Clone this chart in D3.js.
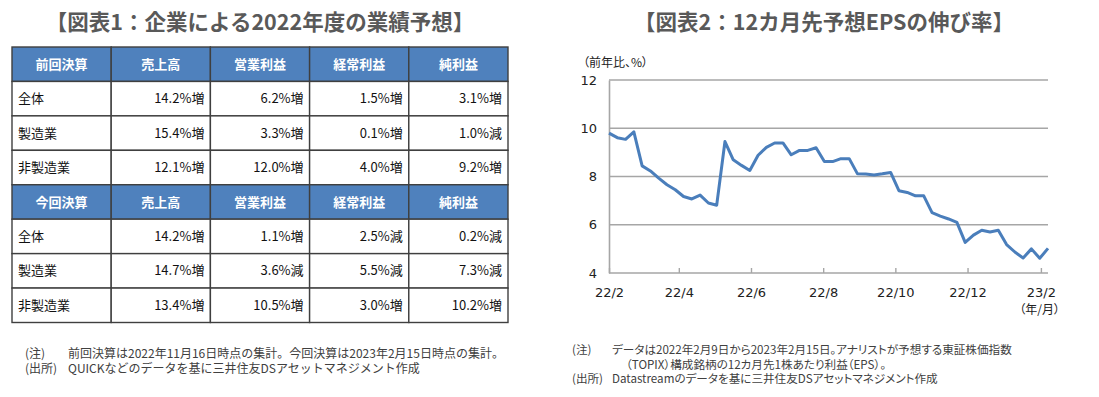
<!DOCTYPE html>
<html>
<head>
<meta charset="utf-8">
<script src="https://cdn.jsdelivr.net/npm/d3@7"></script>
<style>
  body { margin: 0; background: #fff; }
  svg text { font-family: "Noto Sans CJK JP", "Noto Sans", sans-serif; }
  .palt { font-feature-settings: "palt"; }
</style>
</head>
<body>
<svg id="chart" width="1099" height="397"></svg>
<script>
// Table 1 data
var tableCols = ['売上高', '営業利益', '経常利益', '純利益']
var prevHead = '前回決算'
var currHead = '今回決算'
var rowNames = ['全体', '製造業', '非製造業']
var prevValues = [
  ['14.2%増', '6.2%増', '1.5%増', '3.1%増'],
  ['15.4%増', '3.3%増', '0.1%増', '1.0%減'],
  ['12.1%増', '12.0%増', '4.0%増', '9.2%増']
]
var currValues = [
  ['14.2%増', '1.1%増', '2.5%減', '0.2%減'],
  ['14.7%増', '3.6%減', '5.5%減', '7.3%減'],
  ['13.4%増', '10.5%増', '3.0%増', '10.2%増']
]

// Chart 2 data : weekly, 2022/2/9 - 2023/2/15
var epsDates = [
  '2022-02-09','2022-02-16','2022-02-23','2022-03-02','2022-03-09','2022-03-16','2022-03-23','2022-03-30',
  '2022-04-06','2022-04-13','2022-04-20','2022-04-27','2022-05-04','2022-05-11','2022-05-18','2022-05-25',
  '2022-06-01','2022-06-08','2022-06-15','2022-06-22','2022-06-29','2022-07-06','2022-07-13','2022-07-20',
  '2022-07-27','2022-08-03','2022-08-10','2022-08-17','2022-08-24','2022-08-31','2022-09-07','2022-09-14',
  '2022-09-21','2022-09-28','2022-10-05','2022-10-12','2022-10-19','2022-10-26','2022-11-02','2022-11-09',
  '2022-11-16','2022-11-23','2022-11-30','2022-12-07','2022-12-14','2022-12-21','2022-12-28','2023-01-04',
  '2023-01-11','2023-01-18','2023-01-25','2023-02-01','2023-02-08','2023-02-15'
]
var epsGrowth = [
  9.80, 9.61, 9.54, 9.85, 8.44, 8.23, 7.93, 7.66,
  7.45, 7.17, 7.07, 7.23, 6.90, 6.81, 9.45, 8.69,
  8.46, 8.25, 8.88, 9.21, 9.39, 9.39, 8.90, 9.08,
  9.08, 9.19, 8.62, 8.62, 8.74, 8.74, 8.11, 8.10,
  8.06, 8.11, 8.17, 7.41, 7.34, 7.20, 7.20, 6.50,
  6.36, 6.24, 6.10, 5.27, 5.57, 5.77, 5.70, 5.77,
  5.18, 4.87, 4.62, 5.00, 4.61, 5.02
]
var yTicks = [4, 6, 8, 10, 12]
var xTickDates = ['2022-02-09','2022-04-09','2022-06-09','2022-08-09','2022-10-09','2022-12-09','2023-02-09']

var notes1 = [
  ['(注)', '前回決算は2022年11月16日時点の集計。今回決算は2023年2月15日時点の集計。'],
  ['(出所)', 'QUICKなどのデータを基に三井住友DSアセットマネジメント作成']
]
var notes2 = [
  ['(注)', 'データは2022年2月9日から2023年2月15日。アナリストが予想する東証株価指数'],
  ['', '（TOPIX）構成銘柄の12カ月先1株あたり利益（EPS）。'],
  ['(出所)', 'Datastreamのデータを基に三井住友DSアセットマネジメント作成']
]

var svg = d3.select('#chart')
var titleColor = '#595959'
var headBlue = '#4F81BD'

// ########### TABLE ###########

svg.append('text')
  .attr('x', 260).attr('y', 30)
  .attr('text-anchor', 'middle')
  .attr('font-size', 21.5).attr('font-weight', 'bold')
  .attr('fill', titleColor)
  .text('【図表1：企業による2022年度の業績予想】')

var rows = []
rows.push({head: true, cells: [prevHead].concat(tableCols)})
rowNames.forEach(function(n, i){ rows.push({head: false, cells: [n].concat(prevValues[i])}) })
rows.push({head: true, cells: [currHead].concat(tableCols)})
rowNames.forEach(function(n, i){ rows.push({head: false, cells: [n].concat(currValues[i])}) })

var colX = d3.scaleBand().domain(d3.range(5)).range([12, 508])
var rowY = d3.scaleBand().domain(d3.range(rows.length)).range([47, 322.5])

var rowG = svg.append('g').selectAll('g')
  .data(rows).join('g')
  .attr('transform', function(d, i){ return 'translate(0,' + rowY(i) + ')' })

rowG.each(function(row){
  var g = d3.select(this)
  row.cells.forEach(function(txt, j){
    g.append('rect')
      .attr('x', colX(j)).attr('y', 0)
      .attr('width', colX.bandwidth()).attr('height', rowY.bandwidth())
      .attr('fill', row.head ? headBlue : '#fff')
      .attr('stroke', '#3f3f3f').attr('stroke-width', 1.4)
    var t = g.append('text')
      .attr('y', rowY.bandwidth() / 2)
      .attr('dy', '0.35em')
      .attr('font-size', 13)
      .text(txt)
    if (row.head){
      t.attr('x', colX(j) + colX.bandwidth() / 2).attr('text-anchor', 'middle')
        .attr('font-weight', 'bold').attr('fill', '#fff')
    } else if (j == 0){
      t.attr('x', colX(j) + 6).attr('fill', '#111')
    } else {
      t.attr('x', colX(j) + colX.bandwidth() - 6).attr('text-anchor', 'end').attr('fill', '#111')
    }
  })
})

// ########### LINE CHART ###########

svg.append('text')
  .attr('x', 824).attr('y', 30)
  .attr('text-anchor', 'middle')
  .attr('font-size', 21.5).attr('font-weight', 'bold')
  .attr('fill', titleColor)
  .text('【図表2：12カ月先予想EPSの伸び率】')

var parse = d3.timeParse('%Y-%m-%d')
var pts = epsDates.map(function(d, i){ return {date: parse(d), v: epsGrowth[i]} })

var x = d3.scaleTime().domain([parse(epsDates[0]), parse(epsDates[epsDates.length - 1])]).range([609, 1048])
var y = d3.scaleLinear().domain([4, 12]).range([273, 80])
var gridColor = '#a6a6a6'

// gridlines
svg.append('g').selectAll('line')
  .data(yTicks.filter(function(t){ return t > 4 })).join('line')
  .attr('x1', 609).attr('x2', 1048)
  .attr('y1', function(d){ return y(d) }).attr('y2', function(d){ return y(d) })
  .attr('stroke', gridColor).attr('stroke-width', 1.6)

// y axis
var yAxis = svg.append('g')
  .attr('transform', 'translate(609,0)')
  .call(d3.axisLeft(y).tickValues(yTicks).tickSize(0).tickPadding(12))
yAxis.select('.domain').attr('stroke', gridColor).attr('stroke-width', 1.6)
yAxis.selectAll('text').attr('font-size', 13).attr('fill', '#222')
  .style('font-family', '"DejaVu Sans", "Noto Sans CJK JP", sans-serif')

// x axis
var xAxis = svg.append('g')
  .attr('transform', 'translate(0,273)')
  .call(d3.axisTop(x).tickValues(xTickDates.map(parse)).tickSize(5).tickFormat(d3.timeFormat('%y/%-m')))
xAxis.select('.domain').remove()
xAxis.append('line').attr('x1', 609).attr('x2', 1048).attr('stroke', gridColor).attr('stroke-width', 1.6)
xAxis.selectAll('.tick line').attr('stroke', gridColor).attr('stroke-width', 1.4)
xAxis.selectAll('.tick text')
  .attr('y', 19).attr('dy', '0.35em')
  .attr('font-size', 13).attr('fill', '#222')
  .style('font-family', '"DejaVu Sans", "Noto Sans CJK JP", sans-serif')

var line = d3.line()
  .x(function(d){ return x(d.date) })
  .y(function(d){ return y(d.v) })

svg.append('path')
  .datum(pts)
  .attr('d', line)
  .attr('fill', 'none')
  .attr('stroke', '#4A7EBB')
  .attr('stroke-width', 3)
  .attr('stroke-linejoin', 'round')

svg.append('text')
  .attr('class', 'palt')
  .attr('x', 583).attr('y', 63).attr('dy', '0.35em')
  .attr('font-size', 12).attr('fill', '#222')
  .text('（前年比、%）')

svg.append('text')
  .attr('class', 'palt')
  .attr('x', 1060).attr('y', 310).attr('dy', '0.35em')
  .attr('text-anchor', 'end')
  .attr('font-size', 12).attr('fill', '#222')
  .text('（年/月）')

// ########### NOTES ###########
// one text element per block, lines as tspans

var drawNotes = function(notes, x0, x1, y0, size, gap, palt, indent){
  var t = svg.append('text')
    .attr('y', y0)
    .attr('font-size', size).attr('fill', '#404040')
  if (palt) t.attr('class', 'palt')
  notes.forEach(function(n, i){
    if (n[0] != ''){
      t.append('tspan').attr('x', x0).attr('y', y0 + i * gap).attr('dy', '0.35em').text(n[0])
    }
    t.append('tspan').attr('x', n[0] == '' ? x1 + indent : x1).attr('y', y0 + i * gap).attr('dy', '0.35em').text(n[1])
  })
}
drawNotes(notes1, 25, 68, 354, 12, 15.2, false, 0)
drawNotes(notes2, 572, 612, 350, 11.6, 14.5, true, 14)
</script>
</body>
</html>
